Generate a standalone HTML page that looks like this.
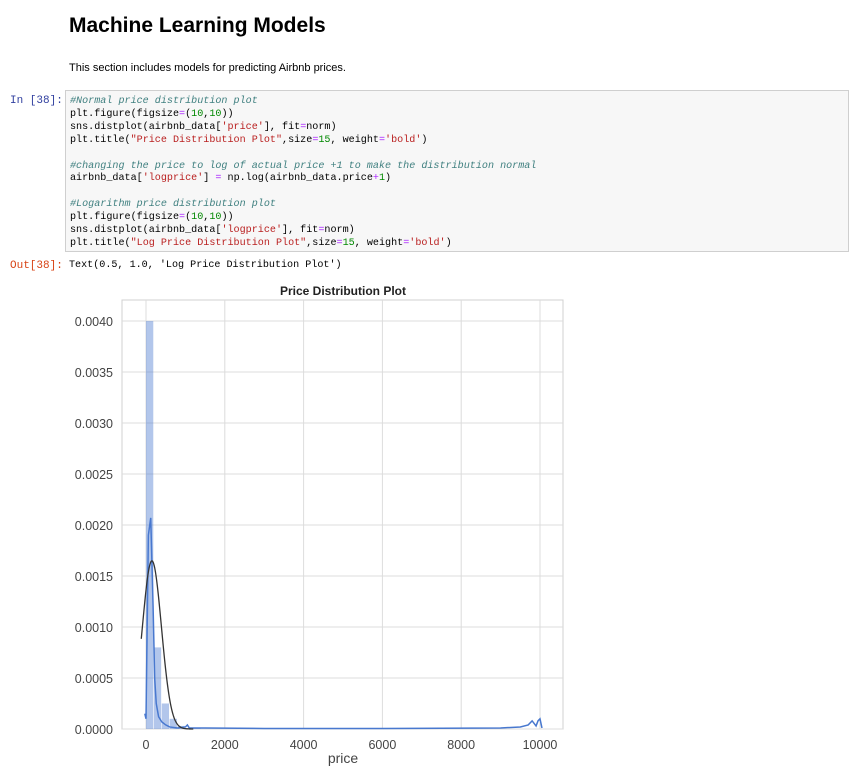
<!DOCTYPE html>
<html><head><meta charset="utf-8"><style>
body{margin:0;background:#fff;width:859px;height:778px;overflow:hidden;position:relative;font-family:"Liberation Sans",sans-serif}
.abs{position:absolute}
h1{position:absolute;left:69px;top:14px;margin:0;font-size:21px;font-weight:bold;color:#000}
.p{left:69px;top:62px;font-size:11px;color:#000}
.prompt{font-family:"Liberation Mono",monospace;font-size:11px}
.code{left:65px;top:90px;width:784px;height:162px;background:#f7f7f7;border:1px solid #cfcfcf;box-sizing:border-box;padding:5px 0 0 4px;font-family:"Liberation Mono",monospace;font-size:10.1px;line-height:12.9px;color:#000;white-space:pre}
.c{color:#408080;font-style:italic}.s{color:#ba2121}.n{color:#080}.o{color:#a2f}
</style></head><body>
<h1>Machine Learning Models</h1>
<div class="abs p">This section includes models for predicting Airbnb prices.</div>
<div class="abs prompt" style="left:10px;top:95px;color:#303f9f">In [38]:</div>
<div class="abs code"><span class="c">#Normal price distribution plot</span>
plt.figure(figsize<span class="o">=</span>(<span class="n">10</span>,<span class="n">10</span>))
sns.distplot(airbnb_data[<span class="s">'price'</span>], fit<span class="o">=</span>norm)
plt.title(<span class="s">"Price Distribution Plot"</span>,size<span class="o">=</span><span class="n">15</span>, weight<span class="o">=</span><span class="s">'bold'</span>)

<span class="c">#changing the price to log of actual price +1 to make the distribution normal</span>
airbnb_data[<span class="s">'logprice'</span>] <span class="o">=</span> np.log(airbnb_data.price<span class="o">+</span><span class="n">1</span>)

<span class="c">#Logarithm price distribution plot</span>
plt.figure(figsize<span class="o">=</span>(<span class="n">10</span>,<span class="n">10</span>))
sns.distplot(airbnb_data[<span class="s">'logprice'</span>], fit<span class="o">=</span>norm)
plt.title(<span class="s">"Log Price Distribution Plot"</span>,size<span class="o">=</span><span class="n">15</span>, weight<span class="o">=</span><span class="s">'bold'</span>)</div>
<div class="abs prompt" style="left:10px;top:260px;color:#d84315">Out[38]:</div>
<div class="abs prompt" style="left:69px;top:260px;color:#000;font-size:10.1px">Text(0.5, 1.0, 'Log Price Distribution Plot')</div>
<svg class="abs" style="left:0;top:0" width="859" height="778" id="chart"></svg>
<script>
const binEdgesStart = [0,200,400,600,800,1000,1200];
const binDensity = [0.0040,0.0008,0.00025,0.0001,0.00003,0.00001,0.000005];
const kdeX = [-30,0,60,120,180,220,260,320,400,500,600,800,1000,1050,1100,1500,3000,6000,9000,9500,9700,9800,9900,9950,10000,10050];
const kdeY = [0.00015,0.0001,0.0019,0.00207,0.0012,0.0005,0.00025,0.00012,0.00007,0.00004,0.00002,0.00001,0.00002,0.00004,0.00001,0.00001,0.000005,0.000005,0.00001,0.00002,0.00004,0.00008,0.00003,0.00008,0.0001,0.00001];
const normMean = 150;
const normStd = 242;
const normRange = [-120,1200];
const xTicks = [0,2000,4000,6000,8000,10000];
const yTicks = [0,0.0005,0.001,0.0015,0.002,0.0025,0.003,0.0035,0.004];
const yTickLabels = ["0.0000","0.0005","0.0010","0.0015","0.0020","0.0025","0.0030","0.0035","0.0040"];

const L=122,R=563,T=300,B=729;
const xs=v=>146+v*0.0394;
const ys=v=>729-v*102000;
const svg=document.getElementById('chart');
const NS='http://www.w3.org/2000/svg';
function mk(t,a){const e=document.createElementNS(NS,t);for(const k in a)e.setAttribute(k,a[k]);svg.appendChild(e);return e;}
let e=mk('rect',{x:L,y:T,width:R-L,height:B-T,fill:'#fff',stroke:'#d0d0d0'});


xTicks.forEach(t=>{
 let g=mk('line',{x1:xs(t),x2:xs(t),y1:T,y2:B,stroke:'#dcdcdc'});
 
 
 let l=mk('text',{x:xs(t),y:B+20,'text-anchor':'middle','font-size':'12.5',fill:'#444'});
 l.textContent=t;
 
 
});
yTicks.forEach((t,i)=>{
 let g=mk('line',{x1:L,x2:R,y1:ys(t),y2:ys(t),stroke:'#dcdcdc'});
 
 
 let l=mk('text',{x:L-9,y:ys(t)+5,'text-anchor':'end','font-size':'12.5',fill:'#444'});
 l.textContent=yTickLabels[i];
 
 
});
binEdgesStart.forEach((s,i)=>{
 let b=mk('rect',{x:xs(s),y:ys(binDensity[i]),width:xs(s+200)-xs(s)-0.6,height:B-ys(binDensity[i]),fill:'#4878cf','fill-opacity':0.42});
 
 
});
let kd='';kdeX.forEach((x,i)=>kd+=(i?'L':'M')+xs(x)+','+ys(kdeY[i]));
e=mk('path',{d:kd,fill:'none',stroke:'#4878cf','stroke-width':1.5});


let nd='';
for(let i=0;i<=120;i++){const x=normRange[0]+(normRange[1]-normRange[0])*i/120;const y=Math.exp(-0.5*((x-normMean)/normStd)**2)/(normStd*Math.sqrt(2*Math.PI));nd+=(i?'L':'M')+xs(x)+','+ys(y);}
e=mk('path',{d:nd,fill:'none',stroke:'#333','stroke-width':1.3});


e=mk('text',{x:343,y:295,'text-anchor':'middle','font-size':'12','font-weight':'bold',fill:'#222'});
e.textContent='Price Distribution Plot';


e=mk('text',{x:343,y:763,'text-anchor':'middle','font-size':'14',fill:'#444'});
e.textContent='price';


</script>
</body></html>
